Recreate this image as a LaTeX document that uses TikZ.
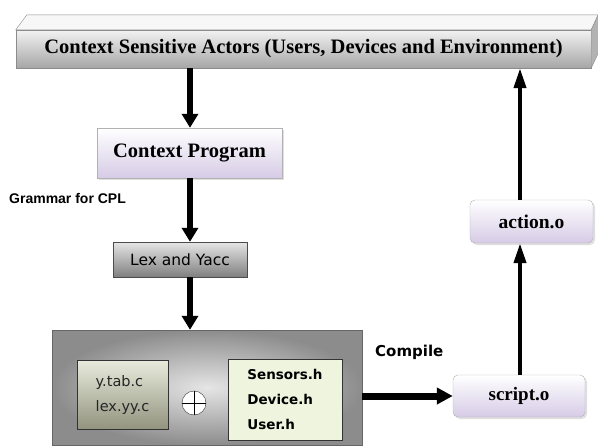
\documentclass[tikz,border=0pt]{standalone}
\usepackage{fontspec}
\setmainfont{Liberation Serif}
\setsansfont{DejaVu Sans}
\newfontfamily\arialfont{Liberation Sans}
\usetikzlibrary{calc,arrows.meta,shadows}

\definecolor{lavbot}{HTML}{D6CBE6}
\definecolor{olivetop}{HTML}{E9EBDD}
\definecolor{olivebot}{HTML}{92947F}
\definecolor{creamfill}{HTML}{EFF4DE}

\tikzset{
	barface/.style={draw=black!45, top color=black!5, bottom color=black!35, inner sep=0pt},
	purplebox/.style={draw=black!30, top color=white, bottom color=lavbot, inner sep=0pt,
		drop shadow={opacity=0.25, shadow xshift=2pt, shadow yshift=-2pt}},
	grayfile/.style={draw=black!80, inner sep=0pt},
	bigarrow/.style={line width=6pt, -{Triangle[length=14pt, width=16pt]}},
	uparrow/.style={line width=4pt, -{Triangle[length=20pt, width=12pt]}},
}

\begin{document}
\begin{tikzpicture}[x=1pt, y=-1pt]
	%%%%% START %%%%%
	\useasboundingbox (0, 0) rectangle (598, 447);
	
	% actors bar with top and side faces
	\node[barface, minimum width=575pt, minimum height=38pt, font=\bfseries\fontsize{20.5}{24}\selectfont] (actors) at (303.5, 49)
		{Context Sensitive Actors (Users, Devices and Environment)};
	\draw[draw=black!45, fill=black!3] (actors.north west) -- ++(11, -15) -- ($(actors.north east)+(7, -15)$) -- (actors.north east) -- cycle;
	\draw[draw=black!45, fill=black!30] (actors.north east) -- ++(7, -15) -- ($(actors.south east)+(7, -15)$) -- (actors.south east) -- cycle;
	
	\node[purplebox, minimum width=185pt, minimum height=50pt, font=\bfseries\fontsize{20.5}{24}\selectfont] (program) at (189.5, 153)
		{Context Program};
	
	\node[anchor=west, inner sep=0pt, font=\arialfont\bfseries\fontsize{14}{16}\selectfont] (grammar) at (9, 198)
		{Grammar for CPL};
	
	\node[draw=black!70, top color=black!10, bottom color=black!50, inner sep=0pt,
		minimum width=134pt, minimum height=35pt, font=\sffamily\fontsize{15.5}{18}\selectfont] (lexyacc) at (180, 259.5)
		{Lex and Yacc};
	
	% compile unit
	\node[draw=black!60, inner color=black!10, outer color=black!45, inner sep=0pt,
		minimum width=310pt, minimum height=115pt] (unit) at (207, 387.5) {};
	\node[grayfile, top color=olivetop, bottom color=olivebot, minimum width=91pt, minimum height=69pt,
		align=left, text=black!85, font=\sffamily\fontsize{14.5}{25}\selectfont] (sources) at (122.5, 394.5)
		{y.tab.c\\lex.yy.c};
	\node[draw=black!80, fill=white, circle, minimum size=24pt, inner sep=0pt] (oplus) at (194, 403) {};
	\draw (oplus.north) -- (oplus.south) (oplus.west) -- (oplus.east);
	\node[grayfile, fill=creamfill, minimum width=114pt, minimum height=81pt,
		align=left, font=\sffamily\bfseries\fontsize{13.5}{25}\selectfont] (headers) at (285, 399.5)
		{Sensors.h\\Device.h\\User.h};
	
	\node[anchor=west, inner sep=0pt, font=\sffamily\bfseries\fontsize{15}{18}\selectfont] (compile) at (375, 352)
		{Compile};
	
	\node[purplebox, rounded corners=5pt, minimum width=132pt, minimum height=42pt,
		font=\bfseries\fontsize{19}{22}\selectfont] (script) at (519, 396) {script.o};
	\node[purplebox, rounded corners=5pt, minimum width=123pt, minimum height=43pt,
		font=\bfseries\fontsize{19.5}{22}\selectfont] (action) at (531.5, 221.5) {action.o};
	
	% connectors
	\draw[bigarrow] (actors.south -| 190, 0) -- (program.north -| 190, 0);
	\draw[bigarrow] (program.south -| 190, 0) -- (lexyacc.north -| 190, 0);
	\draw[bigarrow] (lexyacc.south -| 190, 0) -- (unit.north -| 190, 0);
	\draw[line width=7pt, -{Triangle[length=16pt, width=16pt]}] (unit.east |- script.west) -- (script.west);
	\draw[uparrow] (script.north -| 520, 0) -- (action.south -| 520, 0);
	\draw[uparrow] (action.north -| 520, 0) -- (actors.south -| 520, 0);
	
	%%%%% END %%%%%
\end{tikzpicture}
\end{document}
